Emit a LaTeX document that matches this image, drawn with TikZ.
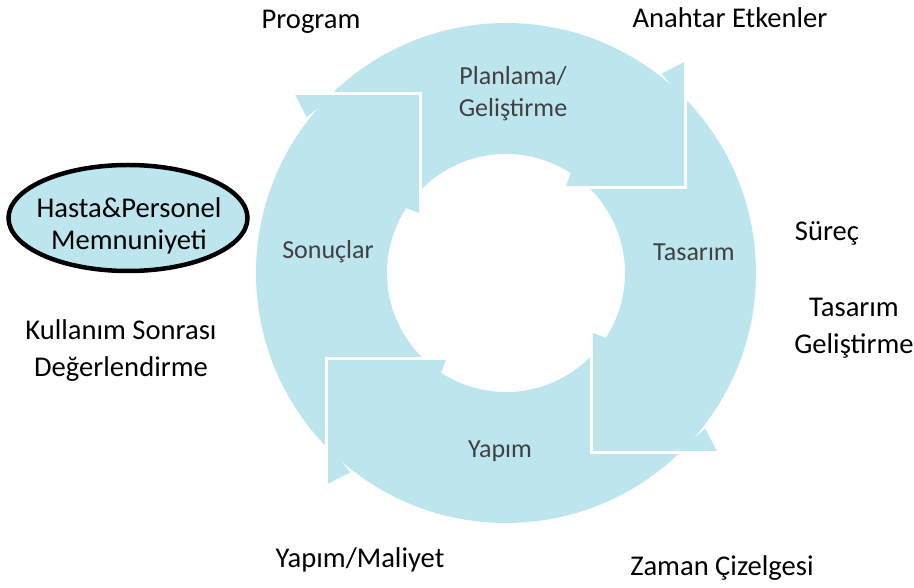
\documentclass[tikz,border=0pt]{standalone}
\usepackage{fontspec}
\setmainfont{Carlito}
\usetikzlibrary{calc}
\definecolor{ringblue}{RGB}{188,229,238}
\definecolor{labelgray}{RGB}{64,64,64}
\begin{document}
\begin{tikzpicture}[x=1pt,y=1pt,
  outerlabel/.style={font=\fontsize{28.6}{37}\selectfont, align=center, text=black, inner sep=0pt},
  innerlabel/.style={font=\fontsize{26}{32}\selectfont, align=center, text=labelgray, inner sep=0pt},
  gapline/.style={white, line width=3pt}]
\useasboundingbox (0,0) rectangle (914,587);
\begin{scope}[shift={(506,314)}]
  \fill[ringblue, even odd rule] (0,0) circle (250) (0,0) circle (119);
  \foreach \a in {26,-64,-154,116} {
    \coordinate (P) at (\a:198);
    \fill[ringblue] (\a+26:253) -- ($(P)+(\a+64:124)$) -- ($(P)+(\a+64:85)$) -- cycle;
    \fill[ringblue] (\a+31:119) -- ($(P)+(\a+154:118)$) -- ($(P)+(\a+154:97)$) -- (\a+26:125) -- cycle;
    \coordinate (Q) at ($(P)+(\a-71:2.1)$);
    \draw[gapline] ($(Q)+(\a+64:95)$) -- (Q) -- ($(Q)+(\a+154:102)$);
  }
\end{scope}
\node[innerlabel] (plan) at (513,493) {Planlama/\\Geliştirme};
\node[innerlabel] (tas) at (694,335) {Tasarım};
\node[innerlabel] (son) at (328,335) {Sonuçlar};
\node[innerlabel] (yap) at (500,136) {Yapım};
\draw[black, line width=4.5pt, fill=ringblue] (128,369) ellipse [x radius=119.5, y radius=53];
\node[outerlabel, font=\fontsize{28.6}{32}\selectfont] (sat) at (129,361) {Hasta\&Personel\\Memnuniyeti};
\node[outerlabel] (prog) at (311,565) {Program};
\node[outerlabel] (anah) at (730,569) {Anahtar Etkenler};
\node[outerlabel] (sur) at (827,354) {Süreç};
\node[outerlabel] (tg) at (854,259) {Tasarım\\Geliştirme};
\node[outerlabel] (kul) at (121,236) {Kullanım Sonrası\\Değerlendirme};
\node[outerlabel] (ym) at (360,27) {Yapım/Maliyet};
\node[outerlabel] (zc) at (722,19) {Zaman Çizelgesi};
\end{tikzpicture}
\end{document}
